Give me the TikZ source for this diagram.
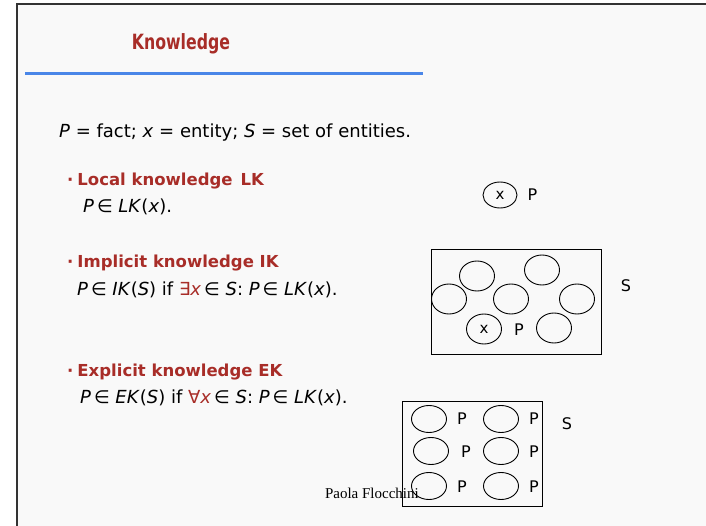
\documentclass[tikz,border=0pt]{standalone}
\usepackage{graphicx}
\usepackage{fontspec}
\setmainfont{DejaVu Sans}
\newfontfamily\footfont{Liberation Serif}
\usetikzlibrary{shapes.geometric,positioning}
\definecolor{slidered}{RGB}{168,45,40}
\definecolor{ruleblue}{RGB}{74,134,232}
\definecolor{slidebg}{RGB}{249,249,249}
\begin{document}
\begin{tikzpicture}[
        x=1pt, y=-1pt,
        txt/.style={anchor=base west, inner sep=0pt, font=\fontsize{18}{21}\selectfont},
        head/.style={txt, text=slidered, font=\fontsize{16.5}{19}\selectfont\bfseries},
        ent/.style={ellipse, draw, line width=0.9pt, minimum width=35pt, minimum height=30pt, inner sep=0pt, font=\fontsize{15}{17}\selectfont},
        fact/.style={inner sep=0pt, font=\fontsize{16}{18}\selectfont},
        setbox/.style={draw, line width=0.9pt, inner sep=0pt}
    ]
        \useasboundingbox (0,0) rectangle (706,526);
        % slide
        \fill[white] (0,0) rectangle (706,526);
        \fill[slidebg] (17,4) rectangle (706,526);
        \draw[black!80, line width=1.5pt] (17,526) -- (17,4) -- (706,4);

        \node[inner sep=0pt, anchor=base, text=slidered, font=\fontsize{21}{25}\selectfont\bfseries] (title) at (181,50) {\scalebox{0.75}[1]{Knowledge}};
        \draw[ruleblue, line width=3pt] (25,74) -- (423,74);

        \node[txt] (defs) at (59,138) {\textit{P} = fact; \textit{x} = entity; \textit{S} = set of entities.};

        \node[head] (lkhead) at (67,186) {·\hspace{4pt}Local knowledge\hspace{8pt}LK};
        \node[txt] (lkdef) at (83,213) {\textit{P}\,∈ \textit{LK}(\textit{x}).};
        \node[head] (ikhead) at (67,268) {·\hspace{4pt}Implicit knowledge IK};
        \node[txt] (ikdef) at (77,295) {\textit{P}\,∈ \textit{IK}(\textit{S}) if \textcolor{slidered}{∃\textit{x}}\,∈ \textit{S}: \textit{P}\,∈ \textit{LK}(\textit{x}).};
        \node[head] (ekhead) at (67,376) {·\hspace{4pt}Explicit knowledge EK};
        \node[txt] (ekdef) at (80,403) {\textit{P}\,∈ \textit{EK}(\textit{S}) if \textcolor{slidered}{∀\textit{x}}\,∈ \textit{S}: \textit{P}\,∈ \textit{LK}(\textit{x}).};

        % local knowledge
        \node[ent, minimum width=34pt, minimum height=26pt] (lkx) at (500,195) {x};
        \node[fact, right=10pt of lkx] (lkp) {P};

        % implicit knowledge
        \node[setbox, minimum width=170pt, minimum height=105pt] (ikset) at (516,301.5) {};
        \node[fact] (iks) at (626,286) {S};
        \node[ent] (ik1) at (449,299) {};
        \node[ent] (ik2) at (477,276) {};
        \node[ent] (ik3) at (542,270) {};
        \node[ent] (ik4) at (511,299) {};
        \node[ent] (ik5) at (577,299) {};
        \node[ent] (ikx) at (484,329) {x};
        \node[ent] (ik7) at (554,328) {};
        \node[fact] (ikp) at (519,330) {P};

        % explicit knowledge
        \node[setbox, minimum width=140pt, minimum height=105pt] (ekset) at (472,453.5) {};
        \node[fact] (eks) at (567,424) {S};
        \node[ent, minimum height=27pt] (ek1) at (429,419) {};
        \node[ent, minimum height=27pt] (ek2) at (501,419) {};
        \node[ent, minimum height=27pt] (ek3) at (431,451) {};
        \node[ent, minimum height=27pt] (ek4) at (501,451) {};
        \node[ent, minimum height=27pt] (ek5) at (429,486) {};
        \node[ent, minimum height=27pt] (ek6) at (501,486) {};
        \node[fact] (ekp1) at (462,419) {P};
        \node[fact] (ekp2) at (534,419) {P};
        \node[fact] (ekp3) at (466,452) {P};
        \node[fact] (ekp4) at (534,452) {P};
        \node[fact] (ekp5) at (462,487) {P};
        \node[fact] (ekp6) at (534,487) {P};

        \node[inner sep=0pt, anchor=base east, font=\footfont\fontsize{15}{17}\selectfont] (author) at (419,498) {Paola Flocchini};
    \end{tikzpicture}
\end{document}
